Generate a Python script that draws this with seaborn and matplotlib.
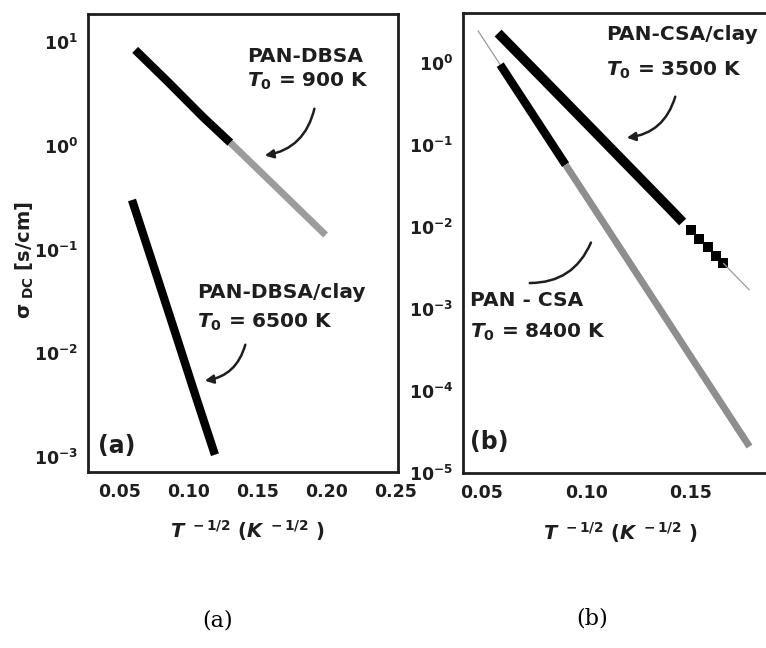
import numpy as np
import pandas as pd
import seaborn as sns
import matplotlib
matplotlib.use("Agg")
import matplotlib.pyplot as plt
from matplotlib.ticker import MultipleLocator, NullLocator

# ---------------- data ----------------
# panel (a)
dbsa_x = [0.061, 0.085, 0.110, 0.130]
dbsa_y = [8.4, 4.1, 1.9, 1.07]
dbsa_tail_x = [0.130, 0.160, 0.199]
dbsa_tail_y = [1.07, 0.44, 0.138]
dbsa_clay_x = [0.0587, 0.075, 0.090, 0.105, 0.1188]
dbsa_clay_y = [0.30, 0.065, 0.0158, 0.0038, 0.00105]

# panel (b)
csa_clay_x = [0.0577, 0.080, 0.100, 0.120, 0.140, 0.146]
csa_clay_y = [2.32, 0.61, 0.184, 0.0553, 0.0166, 0.0115]
csa_clay_tail_x = [0.150, 0.154, 0.158, 0.162, 0.1654]
csa_clay_tail_y = [0.00916, 0.00720, 0.00566, 0.00446, 0.00363]
csa_clay_fit_x = [0.1654, 0.178]
csa_clay_fit_y = [0.00363, 0.0017]
csa_x = [0.0587, 0.075, 0.090]
csa_y = [0.955, 0.221, 0.0574]
csa_tail_x = [0.090, 0.110, 0.130, 0.150, 0.178]
csa_tail_y = [0.0574, 0.00955, 0.00158, 2.6e-4, 2.1e-5]
csa_fit_x = [0.048, 0.0587]
csa_fit_y = [2.49, 0.955]

# ticks
a_xticks = [0.05, 0.10, 0.15, 0.20, 0.25]
a_xlabels = ["0.05", "0.10", "0.15", "0.20", "0.25"]
a_yticks = [1e1, 1e0, 1e-1, 1e-2, 1e-3]
a_ylabels = [r"$10^{1}$", r"$10^{0}$", r"$10^{-1}$", r"$10^{-2}$", r"$10^{-3}$"]
b_xticks = [0.05, 0.10, 0.15]
b_xlabels = ["0.05", "0.10", "0.15"]
b_yticks = [1e0, 1e-1, 1e-2, 1e-3, 1e-4, 1e-5]
b_ylabels = [r"$10^{0}$", r"$10^{-1}$", r"$10^{-2}$", r"$10^{-3}$", r"$10^{-4}$", r"$10^{-5}$"]

# ---------------- style ----------------
sns.set_theme(style="white")
plt.rcParams["font.family"] = ["DejaVu Sans"]
plt.rcParams["font.weight"] = "bold"
plt.rcParams["mathtext.fontset"] = "custom"
plt.rcParams["mathtext.rm"] = "DejaVu Sans:bold"
plt.rcParams["mathtext.it"] = "DejaVu Sans:italic:bold"
plt.rcParams["mathtext.bf"] = "DejaVu Sans:bold"
plt.rcParams["mathtext.default"] = "rm"

INK = "#1e1e1e"
fig = plt.figure(figsize=(7.66, 6.48), dpi=100)
W, H = 766, 648

def ax_at(l, t, r, b):
    return fig.add_axes([l / W, 1 - b / H, (r - l) / W, (b - t) / H])

axa = ax_at(88, 14, 398, 472)
axb = ax_at(463, 13, 766, 473)

def line(ax, x, y, color, lw, alpha=1.0):
    sns.lineplot(x=x, y=y, ax=ax, color=color, linewidth=lw, alpha=alpha,
                 estimator=None, sort=False, solid_capstyle="butt")

# panel (a)
line(axa, dbsa_x, dbsa_y, "black", 6.0)
line(axa, dbsa_tail_x, dbsa_tail_y, "#9c9c9c", 5.0)
line(axa, dbsa_clay_x, dbsa_clay_y, "black", 6.0)

# panel (b)
line(axb, csa_fit_x, csa_fit_y, "#9a9a9a", 0.9)
line(axb, csa_clay_fit_x, csa_clay_fit_y, "#9a9a9a", 0.9)
line(axb, csa_clay_x, csa_clay_y, "black", 7.0)
sns.scatterplot(x=csa_clay_tail_x, y=csa_clay_tail_y, ax=axb, marker="s",
                s=55, color="black", edgecolor="black", linewidth=0)
line(axb, csa_x, csa_y, "black", 6.0)
line(axb, csa_tail_x, csa_tail_y, "#8e8e8e", 5.0)

def style(ax, xlim, ylim, xt, xl, yt, yl, right_spine=True):
    ax.set_yscale("log")
    ax.set_xlim(*xlim)
    ax.set_ylim(*ylim)
    ax.set_xticks(xt, xl)
    ax.set_yticks(yt, yl)
    ax.xaxis.set_minor_locator(MultipleLocator(0.025))
    ax.yaxis.set_minor_locator(NullLocator())
    ax.tick_params(axis="both", which="major", direction="in", length=6,
                   width=1.8, color=INK, labelcolor=INK, labelsize=12.5)
    ax.tick_params(axis="x", which="major", pad=8)
    ax.tick_params(axis="y", which="major", pad=7)
    ax.tick_params(axis="x", which="minor", direction="in", length=4,
                   width=1.5, color=INK)
    for s in ["left", "bottom", "top", "right"]:
        ax.spines[s].set_color(INK)
        ax.spines[s].set_linewidth(2.0)
    ax.spines["right"].set_visible(right_spine)
    ax.set_facecolor("white")
    for lab in ax.get_xticklabels() + ax.get_yticklabels():
        lab.set_fontweight("bold")

style(axa, (0.0268, 0.2515), (10 ** -3.145, 10 ** 1.27),
      a_xticks, a_xlabels, a_yticks, a_ylabels)
style(axb, (0.0409, 0.1859), (1e-5, 10 ** 0.61),
      b_xticks, b_xlabels, b_yticks, b_ylabels, right_spine=False)

xlab = r"$\mathit{T}^{\ -1/2}$ ($\mathit{K}^{\ -1/2}$ )"
axa.set_xlabel(xlab, fontsize=14, color=INK, fontweight="bold")
axa.xaxis.set_label_coords(0.513, -0.127)
axa.xaxis.label.set_va("center")
axb.set_xlabel(xlab, fontsize=14, color=INK, fontweight="bold")
axb.xaxis.set_label_coords(0.518, -0.130)
axb.xaxis.label.set_va("center")
axa.set_ylabel(r"$\sigma_{\ DC}$ [s/cm]", fontsize=14, color=INK, fontweight="bold")
axa.yaxis.set_label_coords(-0.203, 0.463)
axa.yaxis.label.set_va("center")

# annotations (figure pixel positions)
def ftxt(x, y, s, size=14.5, **kw):
    fig.text(x / W, 1 - y / H, s, fontsize=size, color=INK, fontweight="bold",
             ha="left", va="center", **kw)

T0 = r"$\mathit{T}_{0}$"
ftxt(247, 56, "PAN-DBSA")
ftxt(247, 81, T0 + " = 900 K")
ftxt(197, 293, "PAN-DBSA/clay")
ftxt(197, 322, T0 + " = 6500 K")
ftxt(98, 446, "(a)", size=17)

ftxt(606, 35, "PAN-CSA/clay")
ftxt(606, 70, T0 + " = 3500 K")
ftxt(470, 300, "PAN - CSA")
ftxt(470, 332, T0 + " = 8400 K")
ftxt(470, 442, "(b)", size=17)

def farrow(x0, y0, x1, y1, rad, head=True):
    fig.add_artist(matplotlib.patches.FancyArrowPatch(
        (x0 / W, 1 - y0 / H), (x1 / W, 1 - y1 / H),
        transform=fig.transFigure, connectionstyle=f"arc3,rad={rad}",
        arrowstyle="-|>,head_length=5,head_width=2.5" if head else "-",
        color=INK, linewidth=1.8))

farrow(315, 106, 262, 156, -0.35)
farrow(246, 342, 202, 381, -0.35)
farrow(676, 94, 624, 138, -0.35)
farrow(527, 283, 592, 240, 0.35, head=False)

# captions
fig.text(218 / W, 1 - 621 / H, "(a)", fontsize=16, family="DejaVu Serif",
         fontweight="normal", ha="center", va="center", color="black")
fig.text(592 / W, 1 - 618 / H, "(b)", fontsize=16, family="DejaVu Serif",
         fontweight="normal", ha="center", va="center", color="black")

fig.savefig("out.png", dpi=100, facecolor="white")
